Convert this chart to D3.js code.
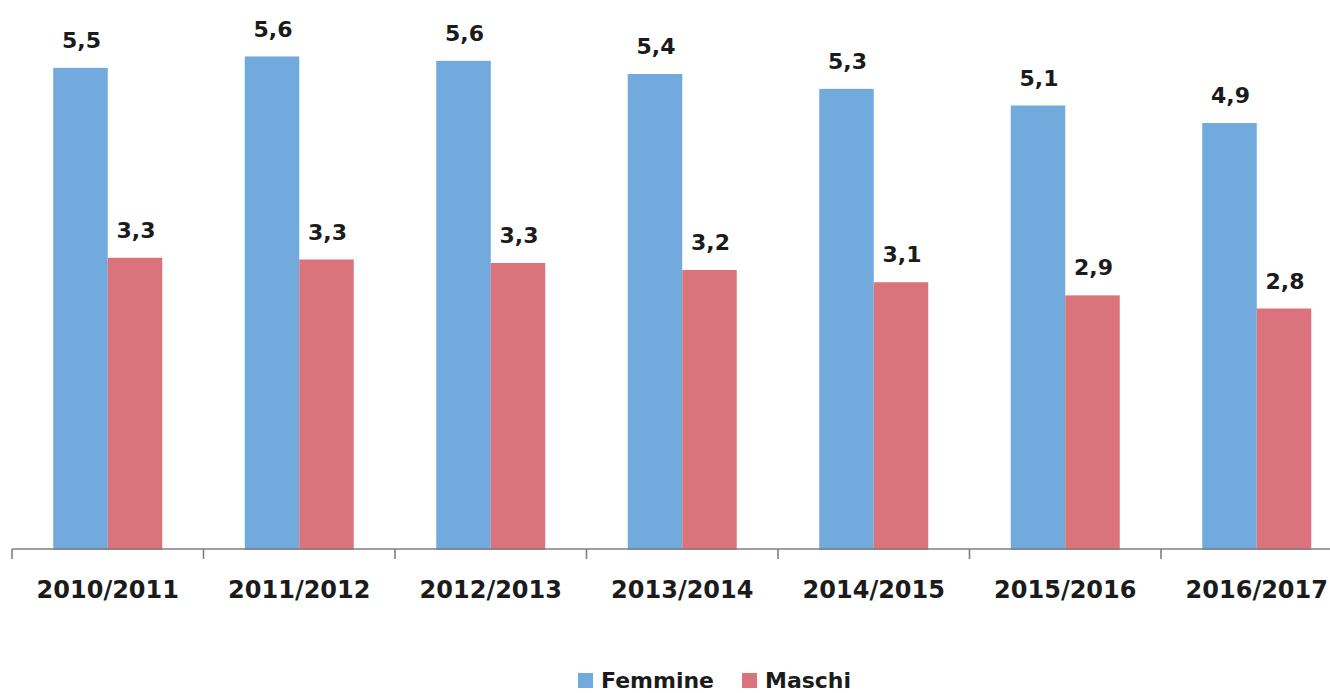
<!DOCTYPE html>
<html>
<head>
<meta charset="utf-8">
<script src="https://cdn.jsdelivr.net/npm/d3@7/dist/d3.min.js"></script>
<style>
  html, body { margin: 0; padding: 0; background: #ffffff; }
  svg { display: block; }
  text { font-family: "DejaVu Sans", sans-serif; font-weight: bold; fill: #1b1b1b; }
</style>
</head>
<body>
<svg id="chart" width="1330" height="693"></svg>
<script>
const categories = ["2010/2011", "2011/2012", "2012/2013", "2013/2014", "2014/2015", "2015/2016", "2016/2017"];
const seriesNames = ["Femmine", "Maschi"];
const femmine = [5.51, 5.64, 5.59, 5.44, 5.27, 5.08, 4.88];
const maschi  = [3.34, 3.32, 3.28, 3.20, 3.06, 2.91, 2.76];
const colors = ["#72aadd", "#da737b"];

const svg = d3.select("#chart");
const baseY = 550;

const x = d3.scaleBand().domain(categories).range([12, 1352.5]).paddingInner(0).paddingOuter(0);
const xs = d3.scaleBand().domain(seriesNames).range([0, x.bandwidth()]).paddingInner(0).paddingOuter(0.757);
const y = d3.scaleLinear().domain([0, 6]).range([baseY, baseY - 525]);

const data = categories.map((c, i) => ({ cat: c, values: [femmine[i], maschi[i]] }));
const fmt = v => d3.format(".1f")(v).replace(".", ",");

const groups = svg.append("g").selectAll("g").data(data).join("g")
  .attr("transform", d => `translate(${x(d.cat)},0)`);

groups.selectAll("rect").data(d => d.values.map((v, j) => ({ s: seriesNames[j], v, j })))
  .join("rect")
  .attr("x", d => xs(d.s))
  .attr("y", d => y(d.v))
  .attr("width", xs.bandwidth())
  .attr("height", d => y(0) - y(d.v))
  .attr("fill", d => colors[d.j]);

groups.selectAll("text.val").data(d => d.values.map((v, j) => ({ s: seriesNames[j], v, j })))
  .join("text")
  .attr("class", "val")
  .attr("x", d => xs(d.s) + xs.bandwidth() / 2 + 1)
  .attr("y", d => y(d.v) - 20)
  .attr("text-anchor", "middle")
  .style("font-size", "22px")
  .text(d => fmt(d.v));

// X axis
const axis = svg.append("g").attr("transform", `translate(0,${baseY - 1})`)
  .call(d3.axisBottom(x).tickSize(0).tickPadding(32));
axis.select(".domain").attr("stroke", "#7f7f7f").attr("stroke-width", 1.6)
  .attr("d", `M12,0H1352`);
axis.selectAll(".tick text")
  .style("font-size", "24px")
  .style("font-family", "'DejaVu Sans', sans-serif")
  .style("font-weight", "bold")
  .attr("fill", "#1b1b1b")
  .attr("dy", "0.71em");

// boundary ticks
const bounds = categories.map(c => x(c)).concat([x(categories[categories.length - 1]) + x.bandwidth()]);
axis.selectAll("line.bt").data(bounds).join("line")
  .attr("class", "bt")
  .attr("x1", d => d).attr("x2", d => d)
  .attr("y1", 0).attr("y2", 10)
  .attr("stroke", "#7f7f7f").attr("stroke-width", 1.6);

// Legend
const legendX = [578, 742];
const legend = svg.append("g").selectAll("g").data(seriesNames).join("g")
  .attr("transform", (d, i) => `translate(${legendX[i]},673)`);
legend.append("rect").attr("width", 15).attr("height", 15).attr("fill", (d, i) => colors[i]);
legend.append("text").attr("x", 23).attr("y", 15).style("font-size", "22px").text(d => d);
</script>
</body>
</html>
